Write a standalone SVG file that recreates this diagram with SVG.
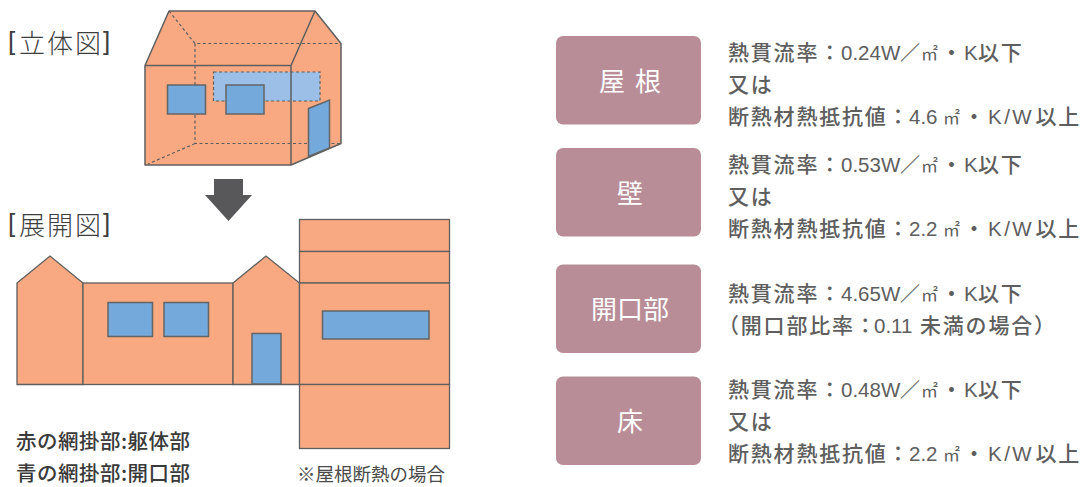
<svg xmlns="http://www.w3.org/2000/svg" width="1083" height="487" viewBox="0 0 1083 487">
<style>
.f{fill:#f9a982;stroke:#5f5f5f;stroke-width:1.5;stroke-linejoin:round}
.t{fill:#f9a982;stroke:#5f5f5f;stroke-width:1.3}
.b{fill:#74a9dc;stroke:#646464;stroke-width:1.5}
.d{fill:none;stroke:#5f5f5f;stroke-width:1.2;stroke-dasharray:3 2.5}
.h{font-family:"Noto Sans CJK JP",sans-serif;font-size:26px;fill:#3e3e3e;font-weight:300;letter-spacing:2px}
.br{font-family:"Liberation Sans",sans-serif;font-size:26px;fill:#3e3e3e}
.s{font-family:"Noto Sans CJK JP",sans-serif;font-size:20.5px;fill:#3a3a3a;font-weight:500;letter-spacing:.5px}
.n{font-family:"Noto Sans CJK JP",sans-serif;font-size:18.5px;fill:#4a4a4a}
.l{font-family:"Noto Sans CJK JP",sans-serif;font-size:21px;fill:#5e5e5e;font-weight:500;letter-spacing:1.8px}
.a{font-family:"Liberation Sans",sans-serif;font-size:20.5px;letter-spacing:0}
.ak{font-family:"Liberation Sans",sans-serif;font-size:20.5px;letter-spacing:2.5px}
.m{font-size:17px;font-weight:400;letter-spacing:0}
.k{fill:#b88d97;stroke:none}
.w{font-family:"Noto Sans CJK JP",sans-serif;font-size:26px;fill:#fff;text-anchor:middle;word-spacing:4px}
</style>
<g id="solid-view">
<path class="f" d="M145 65.500 L169 11 H315 L341 43.500 V143.500 L291 165 H145Z"/>
<rect x="213.500" y="72" width="106.500" height="29" fill="#9bbfe6"/>
<path class="d" d="M169 11 L195 43.500 H341 M195 43.500 V143.500 H341 M195 143.500 L148 164 M213.500 72 H320 V101 H213.500Z"/>
<path fill="none" stroke="#5f5f5f" stroke-width="1.500" d="M145 65.500 H291 V165 M291 65.500 L315 11"/>
<rect class="b" x="167.500" y="85" width="38" height="29"/>
<rect class="b" x="226" y="85" width="38" height="29"/>
<path class="b" d="M308.500 108.500 L329.500 100 V148 L308.500 156.500Z"/>
</g>
<g id="arrow"><path fill="#58585a" d="M214 179 H243 V195 H252 L228.500 221 L205 195 H214Z"/></g>
<g id="unfolded-view">
<path class="t" d="M17 283 L50 256 L83 283 V384.500 H17Z"/>
<rect class="t" x="83" y="283" width="150" height="101.500"/>
<path class="t" d="M233 283 L266 256 L299.500 283 V384.500 H233Z"/>
<rect class="t" x="299.500" y="219.500" width="150" height="32"/>
<rect class="t" x="299.500" y="251.500" width="150" height="31.500"/>
<rect class="t" x="299.500" y="283" width="150" height="101.500"/>
<rect class="t" x="299.500" y="384.500" width="150" height="64"/>
<rect class="b" x="108" y="302.500" width="44.500" height="34"/>
<rect class="b" x="164" y="302.500" width="44.500" height="34"/>
<rect class="b" x="252" y="333.500" width="29" height="50.500"/>
<rect class="b" x="322.500" y="311" width="106.500" height="28"/>
</g>
<g id="captions">
<text class="br" x="8" y="49.500">[</text><text class="h" x="19" y="52.500">立体図</text><text class="br" x="103" y="49.500">]</text>
<text class="br" x="8" y="231.500">[</text><text class="h" x="19" y="234.500">展開図</text><text class="br" x="103" y="231.500">]</text>
<text class="s" x="16" y="449">赤の網掛部:躯体部</text>
<text class="s" x="16" y="481">青の網掛部:開口部</text>
<text class="n" x="297" y="481">※屋根断熱の場合</text>
</g>
<g id="node-roof"><rect class="k" x="556" y="36" width="145" height="88.500" rx="7"/><text class="w" x="630" y="90.500">屋 根</text>
<text class="l" x="728" y="60">熱貫流率：<tspan class="a" x="841">0.24W</tspan><tspan x="900" font-size="20" letter-spacing="0">／</tspan><tspan class="m" x="921">㎡</tspan><tspan x="941">・</tspan><tspan class="a" x="964">K</tspan><tspan x="978">以下</tspan></text>
<text class="l" x="728" y="92">又は</text>
<text class="l" x="728" y="124">断熱材熱抵抗値：<tspan class="a" x="909">4.6</tspan><tspan class="m" x="943">㎡</tspan><tspan x="963.500">・</tspan><tspan class="ak" x="988">K/W</tspan><tspan x="1035.500">以上</tspan></text></g>
<g id="node-wall"><rect class="k" x="556" y="148" width="145" height="88.500" rx="7"/><text class="w" x="630" y="202.500">壁</text>
<text class="l" x="728" y="172">熱貫流率：<tspan class="a" x="841">0.53W</tspan><tspan x="900" font-size="20" letter-spacing="0">／</tspan><tspan class="m" x="921">㎡</tspan><tspan x="941">・</tspan><tspan class="a" x="964">K</tspan><tspan x="978">以下</tspan></text>
<text class="l" x="728" y="204">又は</text>
<text class="l" x="728" y="236">断熱材熱抵抗値：<tspan class="a" x="909">2.2</tspan><tspan class="m" x="943">㎡</tspan><tspan x="963.500">・</tspan><tspan class="ak" x="988">K/W</tspan><tspan x="1035.500">以上</tspan></text></g>
<g id="node-opening"><rect class="k" x="556" y="264.500" width="145" height="88.500" rx="7"/><text class="w" x="630" y="318.500">開口部</text>
<text class="l" x="728" y="301">熱貫流率：<tspan class="a" x="841">4.65W</tspan><tspan x="900" font-size="20" letter-spacing="0">／</tspan><tspan class="m" x="921">㎡</tspan><tspan x="941">・</tspan><tspan class="a" x="964">K</tspan><tspan x="978">以下</tspan></text>
<text class="l" x="718" y="333">（開口部比率：<tspan class="a" x="874">0.11</tspan><tspan x="920">未満の場合）</tspan></text></g>
<g id="node-floor"><rect class="k" x="556" y="376.500" width="145" height="88.500" rx="7"/><text class="w" x="630" y="430.500">床</text>
<text class="l" x="728" y="397">熱貫流率：<tspan class="a" x="841">0.48W</tspan><tspan x="900" font-size="20" letter-spacing="0">／</tspan><tspan class="m" x="921">㎡</tspan><tspan x="941">・</tspan><tspan class="a" x="964">K</tspan><tspan x="978">以下</tspan></text>
<text class="l" x="728" y="429">又は</text>
<text class="l" x="728" y="461">断熱材熱抵抗値：<tspan class="a" x="909">2.2</tspan><tspan class="m" x="943">㎡</tspan><tspan x="963.500">・</tspan><tspan class="ak" x="988">K/W</tspan><tspan x="1035.500">以上</tspan></text></g>
<g id="connectors"></g>
</svg>
